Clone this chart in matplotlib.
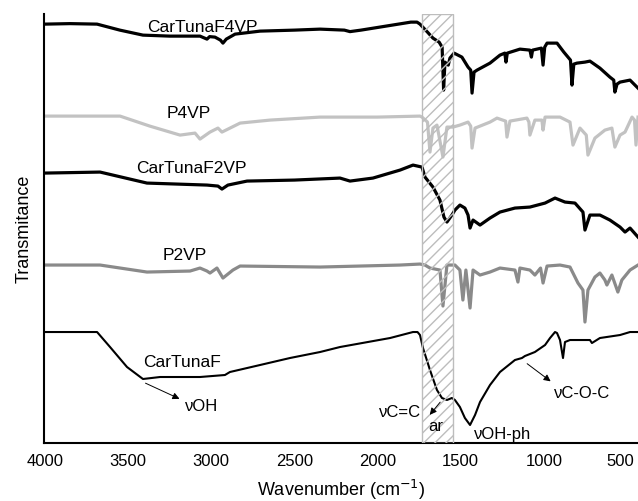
import matplotlib
matplotlib.use('Agg')
import matplotlib.pyplot as plt
from matplotlib.patches import Rectangle
from matplotlib.transforms import ScaledTranslation
import numpy as np

plt.rcParams['font.family'] = ['Liberation Sans', 'DejaVu Sans']

# espectros FTIR (numero de onda, transmitancia em unidades arbitrarias com offset)
wn_f4vp = [4000, 3850, 3687, 3550, 3411, 3250, 3068, 3040, 3026, 3010, 2978, 2945, 2930, 2910,
           2857, 2707, 2500, 2346, 2200, 2166, 2100, 1950, 1800, 1763, 1745, 1700, 1667, 1630,
           1612, 1603, 1595, 1575, 1565, 1540, 1493, 1456, 1440, 1432, 1420, 1402, 1324, 1264,
           1235, 1228, 1220, 1144, 1084, 1075, 1068, 1015, 1005, 995, 981, 921, 880, 840, 831,
           820, 801, 753, 723, 663, 603, 580, 573, 560, 542, 482, 434]
t_f4vp = [419, 419.5, 419, 413, 408, 407, 407, 405, 404, 406.5, 406, 403, 400, 404,
          409, 412, 413, 414, 413, 411.5, 413, 417, 421, 421, 419, 411, 405, 401,
          396, 353, 381, 378, 385, 390, 386, 376, 373, 350, 371, 373, 380, 388,
          390, 381, 390, 394, 393, 386, 393, 395, 378, 396, 400, 400, 391, 383, 358,
          379, 380, 381, 382, 375, 366, 363, 351, 359, 361, 363, 355]

wn_p4vp = [4000, 3549, 3370, 3188, 3098, 3068, 3008, 2960, 2936, 2827, 2647, 2346, 2000, 1745,
           1733, 1700, 1685, 1667, 1643, 1607, 1583, 1547, 1505, 1456, 1440, 1432, 1414, 1324,
           1282, 1230, 1222, 1204, 1102, 1090, 1084, 1054, 1012, 1005, 993, 903, 843, 825, 783,
           745, 735, 693, 633, 591, 573, 542, 512, 470, 455, 446, 434]
t_p4vp = [327, 327, 317, 308, 310, 304, 311, 315, 311, 320, 323, 326, 326, 327,
          326, 321, 291, 315, 318, 286, 316, 316, 318, 321, 317, 295, 315, 321,
          325, 322, 306, 322, 325, 321, 308, 323, 323, 313, 326, 326, 321, 298, 315,
          308, 288, 305, 313, 315, 296, 308, 311, 326, 323, 298, 326]

wn_f2vp = [4000, 3669, 3387, 3026, 2960, 2936, 2900, 2785, 2500, 2226, 2166, 2028, 1865, 1787,
           1733, 1715, 1667, 1625, 1601, 1583, 1553, 1535, 1505, 1475, 1456, 1444, 1426, 1384,
           1324, 1264, 1174, 1084, 993, 933, 873, 813, 765, 753, 723, 663, 603, 542, 512, 482, 434]
t_f2vp = [270, 271, 260, 258, 257, 254, 258, 262, 263, 265, 262, 265, 273, 278,
          276, 266, 256, 243, 226, 221, 228, 233, 238, 235, 228, 215, 223, 218,
          225, 231, 235, 236, 240, 245, 241, 240, 231, 213, 228, 228, 223, 216, 211, 215, 206]

wn_p2vp = [4000, 3669, 3387, 3128, 3068, 3026, 3008, 2966, 2930, 2870, 2827, 2346, 1865, 1745,
           1715, 1685, 1625, 1607, 1583, 1535, 1505, 1487, 1469, 1444, 1426, 1384, 1324, 1264,
           1174, 1156, 1144, 1084, 1054, 1020, 1005, 981, 903, 843, 795, 765, 753, 735, 693,
           663, 633, 621, 591, 555, 531, 482, 434]
t_p2vp = [178, 178, 171, 172, 175, 172, 170, 175, 165, 173, 177, 176, 178, 179,
          178, 175, 173, 137, 178, 178, 173, 143, 173, 135, 173, 168, 171, 175,
          173, 161, 175, 173, 168, 175, 160, 177, 178, 176, 160, 153, 121, 153, 166,
          170, 163, 158, 168, 151, 163, 173, 178]

wn_ctf = [4000, 3687, 3609, 3507, 3411, 3308, 3068, 2918, 2888, 2707, 2527, 2346, 2226, 1925,
          1787, 1760, 1745, 1727, 1685, 1643, 1613, 1583, 1553, 1535, 1505, 1475, 1444, 1414,
          1384, 1324, 1264, 1174, 1132, 1114, 1054, 993, 963, 933, 921, 903, 885, 873, 843,
          723, 711, 663, 542, 482, 434]
t_ctf = [111, 111, 96, 76, 64, 66, 66, 68, 71, 78, 85, 91, 96, 105,
         111, 111, 108, 95, 73, 53, 45, 43, 45, 43, 36, 25, 18, 28,
         41, 58, 71, 83, 85, 87, 91, 98, 105, 111, 110, 103, 85, 101, 103,
         103, 100, 105, 108, 111, 111]

fig = plt.figure(figsize=(6.38, 5.01), dpi=100)
ax = fig.add_axes([0.069, 0.1158, 0.931, 0.856])

ax.plot(wn_f4vp, t_f4vp, color='black', lw=2.3)
ax.plot(wn_p4vp, t_p4vp, color='#c2c2c2', lw=2.3)
ax.plot(wn_f2vp, t_f2vp, color='black', lw=2.3)
ax.plot(wn_p2vp, t_p2vp, color='#8a8a8a', lw=2.3)
ax.plot(wn_ctf, t_ctf, color='black', lw=1.5)

# regiao C=C aromatico
ax.add_patch(Rectangle((1545, 0), 185, 429, facecolor='none', edgecolor='#bdbdbd',
                       hatch='///', lw=1.0, zorder=3))

ax.text(3056, 416, 'CarTunaF4VP', ha='center', va='center', fontsize=12.5)
ax.text(3134, 330, 'P4VP', ha='center', va='center', fontsize=12.5)
ax.text(3122, 275, 'CarTunaF2VP', ha='center', va='center', fontsize=12.5)
ax.text(3158, 188, 'P2VP', ha='center', va='center', fontsize=12.5)
ax.text(3176, 81, 'CarTunaF', ha='center', va='center', fontsize=12.5)

ax.annotate('', xy=(3176, 43), xytext=(3411, 61),
            arrowprops=dict(arrowstyle='-|>', color='black', lw=0.7))
ax.text(3056, 36, 'νOH', ha='center', va='center', fontsize=12)

ax.annotate('', xy=(1697, 26), xytext=(1613, 43),
            arrowprops=dict(arrowstyle='-|>', color='black', lw=0.7))
ax.text(1865, 30, 'νC=C', ha='center', va='center', fontsize=12)
ax.text(1649, 16, 'ar', ha='center', va='center', fontsize=12)

ax.text(1246, 8, 'νOH-ph', ha='center', va='center', fontsize=12)

ax.annotate('', xy=(946, 60), xytext=(1114, 81),
            arrowprops=dict(arrowstyle='-|>', color='black', lw=0.7))
ax.text(771, 50, 'νC-O-C', ha='center', va='center', fontsize=12)

ax.set_xlim(4006, 434)
ax.set_ylim(0, 429)
ax.set_xticks([4000, 3500, 3000, 2500, 2000, 1500, 1000, 500])
ax.tick_params(axis='x', length=0, labelsize=12, pad=8)
ax.set_yticks([])
# o "500" fica encostado na borda, puxa um pouco pra esquerda
ultimo = ax.get_xticklabels()[-1]
ultimo.set_transform(ultimo.get_transform() + ScaledTranslation(-5 / 72, 0, fig.dpi_scale_trans))
ax.spines['top'].set_visible(False)
ax.spines['right'].set_visible(False)
ax.spines['left'].set_linewidth(1.5)
ax.spines['bottom'].set_linewidth(1.5)
ax.set_xlabel('Wavenumber (cm$^{-1}$)', fontsize=13, labelpad=6)
ax.set_ylabel('Transmitance', fontsize=13, labelpad=8)

fig.savefig('out.png', dpi=100)
